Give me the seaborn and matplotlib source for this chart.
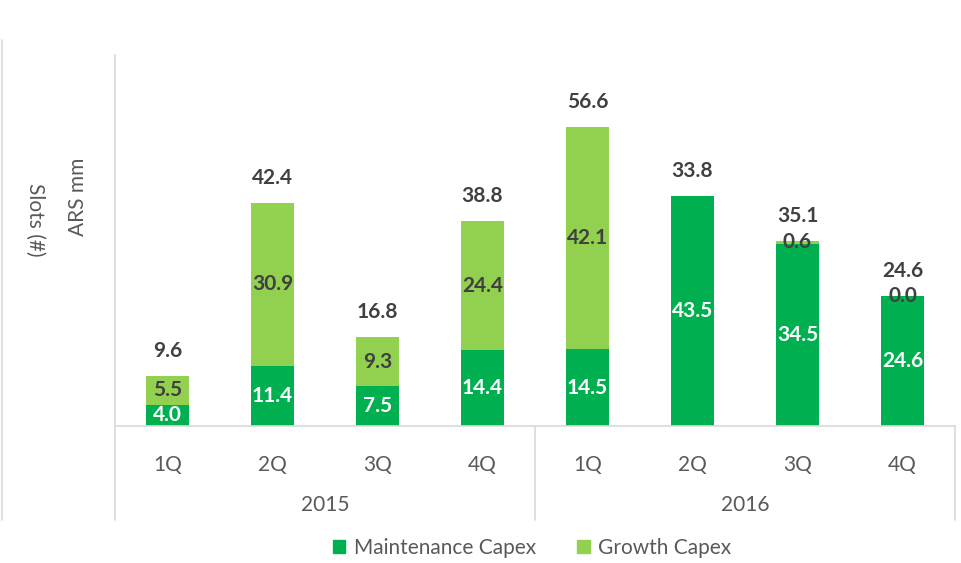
import matplotlib
matplotlib.use("Agg")
import matplotlib.pyplot as plt
from matplotlib.lines import Line2D
from matplotlib.patches import Patch
import seaborn as sns
import pandas as pd

quarters = ["1Q", "2Q", "3Q", "4Q", "1Q", "2Q", "3Q", "4Q"]
years = ["2015", "2016"]
maintenance = [4.0, 11.4, 7.5, 14.4, 14.5, 43.5, 34.5, 24.6]
growth = [5.5, 30.9, 9.3, 24.4, 42.1, None, 0.6, 0.0]
total_labels = [9.6, 42.4, 16.8, 38.8, 56.6, 33.8, 35.1, 24.6]

MAINT_C = "#00B050"
GROWTH_C = "#92D050"
DARK = "#404040"
GRAY = "#595959"
LINE = "#D9D9D9"
FS = 15

sns.set_theme(style="white")
plt.rcParams["font.family"] = ["Lato", "DejaVu Sans"]

slots = [f"{q}-{y}" for y in years for q in ["1Q", "2Q", "3Q", "4Q"]]
g_vals = [0.0 if v is None else v for v in growth]
df = pd.DataFrame({
    "slot": slots,
    "maint": maintenance,
    "growth": g_vals,
})
df["stack"] = df["maint"] + df["growth"]

fig = plt.figure(figsize=(9.61, 5.63), dpi=100)
ax = fig.add_axes([115 / 961, 1 - 426 / 563, 840 / 961, 371 / 563])

sns.barplot(data=df, x="slot", y="stack", color=GROWTH_C, width=0.41,
            saturation=1, ax=ax, order=slots, linewidth=0, edgecolor="none")
sns.barplot(data=df, x="slot", y="maint", color=MAINT_C, width=0.41,
            saturation=1, ax=ax, order=slots, linewidth=0, edgecolor="none")

ax.set_ylim(0, 70.3)
ax.set_xlim(-0.5, 7.5)
ax.set_xlabel("")
ax.set_ylabel("")
ax.set_yticks([])
ax.set_xticks(range(len(slots)))
ax.set_xticklabels(quarters, fontsize=FS, color=GRAY)
ax.tick_params(axis="x", length=0, pad=21)

for s in ["top", "right"]:
    ax.spines[s].set_visible(False)
ax.spines["bottom"].set_color(LINE)
ax.spines["left"].set_color(LINE)
ax.spines["bottom"].set_linewidth(1.2)
ax.spines["left"].set_linewidth(1.2)

# value labels
for i in range(len(slots)):
    m = maintenance[i]
    ax.text(i, m / 2, f"{m:.1f}", ha="center", va="center", color="white",
            fontsize=FS, fontweight="bold")
    if growth[i] is not None:
        gv = growth[i]
        ax.text(i, m + gv / 2, f"{gv:.1f}", ha="center", va="center",
                color=DARK, fontsize=FS, fontweight="bold")
    top = df["stack"][i]
    ax.annotate(f"{total_labels[i]:.1f}", (i, top), xytext=(0, 18),
                textcoords="offset points", ha="center", va="center",
                color=DARK, fontsize=FS, fontweight="bold")

# category group axis
trans = ax.get_xaxis_transform()
y_low = (426 - 520) / 371
for x in [-0.5, 3.5, 7.5]:
    ax.add_line(Line2D([x, x], [0, y_low], transform=trans, color=LINE,
                       lw=1.2, clip_on=False))
for j, yr in enumerate(years):
    ax.text(1.5 + 4 * j, (426 - 505) / 371, yr, transform=trans,
            ha="center", va="center", fontsize=FS, color=GRAY)

# outer left line
fig.add_artist(Line2D([1.5 / 961, 1.5 / 961], [1 - 40 / 563, 1 - 520 / 563],
                      transform=fig.transFigure, color=LINE, lw=1.2))

# axis titles
fig.text(35 / 961, 1 - 220 / 563, "Slots (#)", rotation=-90, ha="center",
         va="center", fontsize=FS, color=GRAY)
fig.text(78 / 961, 1 - 197 / 563, "ARS mm", rotation=90, ha="center",
         va="center", fontsize=FS, color=GRAY)

handles = [Patch(color=MAINT_C, label="Maintenance Capex"),
           Patch(color=GROWTH_C, label="Growth Capex")]
fig.legend(handles=handles, loc="center", bbox_to_anchor=(532 / 961, 1 - 548 / 563),
           ncol=2, frameon=False, fontsize=FS, handlelength=0.6,
           handleheight=0.6, columnspacing=2.0, handletextpad=0.4,
           labelcolor=GRAY)

fig.savefig("out.png", dpi=100)
